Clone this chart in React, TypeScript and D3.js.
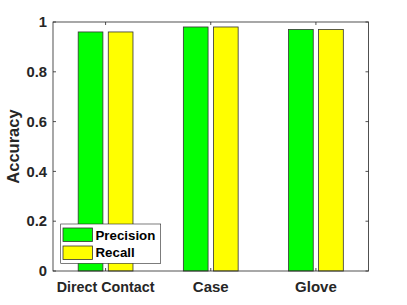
import React from 'react';
import * as d3 from 'd3';

const categories = ['Direct Contact', 'Case', 'Glove'];
const precision = [0.96, 0.98, 0.97];
const recall = [0.96, 0.98, 0.97];
const yTicks = [0, 0.2, 0.4, 0.6, 0.8, 1];
const seriesNames = ['Precision', 'Recall'];
const seriesColors = ['#00ff00', '#ffff00'];

const W = 407;
const H = 305;
const box = { left: 53, top: 22, right: 368.5, bottom: 271 };

export default function App() {
  const x = d3.scaleLinear().domain([0.5, 3.5]).range([box.left, box.right]);
  const y = d3.scaleLinear().domain([0, 1]).range([box.bottom, box.top]);
  const barW = 0.235;
  const offsets = [-0.143, 0.143];
  const series = [precision, recall];
  const font = '"Liberation Sans", Arial, sans-serif';
  const axisColor = '#262626';
  const tick = 3;

  return (
    <div style={{ position: 'fixed', left: 0, top: 0 }}>
      <svg width={W} height={H} style={{ display: 'block', fontFamily: font }}>
        <rect x={0} y={0} width={W} height={H} fill="#fff" />
        {series.map((vals, s) =>
          vals.map((v, i) => (
            <rect
              key={`${s}-${i}`}
              x={x(i + 1 + offsets[s] - barW / 2)}
              y={y(v)}
              width={x(barW) - x(0)}
              height={y(0) - y(v)}
              fill={seriesColors[s]}
              stroke="#333"
              strokeWidth={0.8}
            />
          ))
        )}
        {/* axes box */}
        <rect
          x={box.left}
          y={box.top}
          width={box.right - box.left}
          height={box.bottom - box.top}
          fill="none"
          stroke={axisColor}
          strokeWidth={0.8}
        />
        {yTicks.map((t) => (
          <g key={t}>
            <line x1={box.left} x2={box.left + tick} y1={y(t)} y2={y(t)} stroke={axisColor} strokeWidth={0.8} />
            <line x1={box.right} x2={box.right - tick} y1={y(t)} y2={y(t)} stroke={axisColor} strokeWidth={0.8} />
            <text
              x={box.left - 6}
              y={y(t)}
              dy="0.35em"
              textAnchor="end"
              fontSize={14.8}
              fontWeight="bold"
              fill={axisColor}
            >
              {String(t)}
            </text>
          </g>
        ))}
        {categories.map((c, i) => (
          <g key={c}>
            <line x1={x(i + 1)} x2={x(i + 1)} y1={box.bottom} y2={box.bottom - tick} stroke={axisColor} strokeWidth={0.8} />
            <line x1={x(i + 1)} x2={x(i + 1)} y1={box.top} y2={box.top + tick} stroke={axisColor} strokeWidth={0.8} />
            <text
              x={x(i + 1)}
              y={291.5}
              textAnchor="middle"
              fontSize={i === 0 ? 14.3 : 15}
              fontWeight="bold"
              fill={axisColor}
            >
              {c}
            </text>
          </g>
        ))}
        <text
          transform={`translate(19,${(box.top + box.bottom) / 2}) rotate(-90)`}
          textAnchor="middle"
          fontSize={16.5}
          fontWeight="bold"
          fill={axisColor}
        >
          Accuracy
        </text>
        {/* legend */}
        <g>
          <rect x={60.7} y={224} width={100} height={39.3} fill="#fff" stroke={axisColor} strokeWidth={0.6} />
          {seriesNames.map((n, s) => (
            <g key={n}>
              <rect x={63} y={228 + s * 18} width={29.5} height={13.5} fill={seriesColors[s]} stroke="#333" strokeWidth={0.8} />
              <text x={95.5} y={239.5 + s * 17.5} fontSize={13.3} fontWeight="bold" fill="#000">
                {n}
              </text>
            </g>
          ))}
        </g>
      </svg>
    </div>
  );
}
